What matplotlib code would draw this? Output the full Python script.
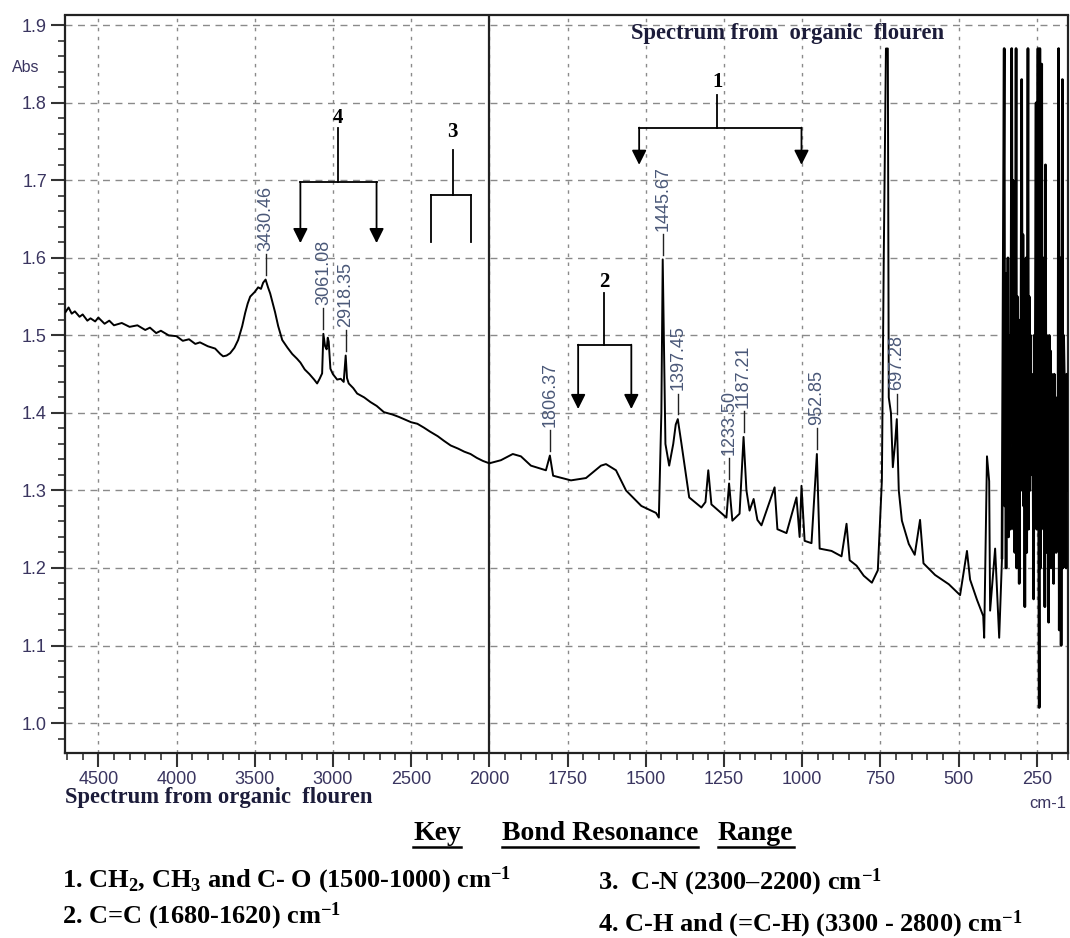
import numpy as np
import matplotlib.pyplot as plt
from matplotlib.lines import Line2D
from matplotlib.ticker import FixedLocator

plt.rcParams['mathtext.fontset'] = 'custom'
plt.rcParams['mathtext.rm'] = 'Liberation Serif:bold'
plt.rcParams['mathtext.it'] = 'Liberation Serif:bold'
plt.rcParams['mathtext.bf'] = 'Liberation Serif:bold'

# FTIR trace, wavenumber (cm-1) and absorbance
wavenumber = [
    4710, 4690, 4670, 4650, 4620, 4600, 4570, 4550, 4520, 4500,
    4460, 4430, 4400, 4350, 4300, 4250, 4200, 4170, 4130, 4100,
    4050, 4000, 3960, 3920, 3880, 3850, 3800, 3753, 3720, 3702,
    3680, 3657, 3630, 3606, 3580, 3561, 3545, 3529, 3500, 3478,
    3460, 3446, 3430.46, 3415, 3401, 3370, 3350, 3324, 3290, 3260,
    3230, 3208, 3180, 3150, 3120, 3101, 3085, 3069, 3061.08, 3050,
    3040, 3033, 3027, 3016, 3000, 2973, 2950, 2931, 2918.35, 2910,
    2899, 2870, 2845, 2800, 2760, 2720, 2674, 2620, 2580, 2546,
    2500, 2460, 2418, 2380, 2330, 2290, 2247, 2200, 2160, 2120,
    2080, 2040, 2000,
    1963, 1925, 1899, 1867, 1819, 1806.37, 1796, 1739, 1691, 1643, 1627, 1595,
    1563, 1514, 1467, 1458, 1450, 1445.67, 1437, 1425, 1412, 1404, 1397.45,
    1386, 1361, 1322, 1309, 1300, 1290, 1242, 1233.50, 1223, 1200, 1187.21,
    1178, 1168, 1155, 1143, 1130, 1088, 1079, 1050, 1018, 1008, 1002, 992, 970,
    952.85, 944, 906, 874, 858, 848, 826, 803, 777, 758, 745, 739, 732, 726,
    723, 716, 710, 703, 697.28, 691, 681, 659, 640, 623, 612, 575, 531, 495,
    473, 463, 441, 421, 418, 409, 402, 399, 383, 370, 361,
    354, 352, 350, 348, 346, 344, 342, 340, 338, 336,
    334, 332, 330, 328, 326, 324, 322, 320, 318, 316,
    314, 312, 310, 308, 306, 304, 302, 300, 298, 296,
    294, 292, 290, 288, 286, 284, 282, 280, 278, 276,
    274, 272, 270, 268, 266, 264, 262, 260, 258, 256,
    254, 252, 250, 248, 246, 244, 242, 240, 238, 236,
    234, 232, 230, 228, 226, 224, 222, 220, 218, 216,
    214, 212, 210, 208, 206, 204, 202, 200, 198, 196,
    194, 192, 190, 188, 186, 184, 182, 180, 178, 176,
    174, 172, 170, 168, 166, 164, 162, 160, 158, 156,
    154, 152, 150,
]
absorbance = [
    1.530, 1.536, 1.528, 1.531, 1.524, 1.527, 1.519, 1.522, 1.518, 1.523,
    1.515, 1.519, 1.513, 1.516, 1.511, 1.513, 1.507, 1.510, 1.503, 1.506,
    1.500, 1.499, 1.493, 1.495, 1.489, 1.491, 1.486, 1.483, 1.476, 1.473,
    1.474, 1.477, 1.484, 1.494, 1.512, 1.529, 1.541, 1.550, 1.556, 1.562,
    1.560, 1.568, 1.572, 1.562, 1.554, 1.530, 1.512, 1.494, 1.484, 1.476,
    1.470, 1.465, 1.456, 1.450, 1.443, 1.438, 1.444, 1.451, 1.502, 1.486,
    1.482, 1.497, 1.492, 1.457, 1.450, 1.443, 1.444, 1.440, 1.474, 1.445,
    1.438, 1.432, 1.425, 1.420, 1.414, 1.409, 1.401, 1.398, 1.395, 1.392,
    1.388, 1.386, 1.381, 1.376, 1.370, 1.364, 1.358, 1.354, 1.350, 1.347,
    1.342, 1.338, 1.335,
    1.339, 1.347, 1.344, 1.332, 1.326, 1.345, 1.319, 1.313, 1.316, 1.332, 1.334, 1.326,
    1.300, 1.280, 1.271, 1.265, 1.400, 1.598, 1.360, 1.332, 1.360, 1.385, 1.392,
    1.361, 1.291, 1.278, 1.285, 1.326, 1.282, 1.265, 1.309, 1.261, 1.270, 1.369,
    1.300, 1.274, 1.289, 1.262, 1.255, 1.304, 1.250, 1.245, 1.291, 1.240, 1.306, 1.235, 1.232,
    1.347, 1.225, 1.222, 1.215, 1.257, 1.210, 1.203, 1.190, 1.181, 1.197, 1.313, 1.600, 1.870, 1.870,
    1.420, 1.400, 1.330, 1.360, 1.392, 1.300, 1.261, 1.231, 1.217, 1.262, 1.206, 1.191, 1.179, 1.165,
    1.222, 1.185, 1.159, 1.138, 1.110, 1.344, 1.312, 1.145, 1.225, 1.110, 1.213,
    1.870, 1.280, 1.520, 1.200, 1.580, 1.300, 1.600, 1.240, 1.500, 1.320,
    1.250, 1.550, 1.870, 1.420, 1.700, 1.250, 1.550, 1.220, 1.450, 1.870,
    1.200, 1.550, 1.300, 1.520, 1.180, 1.400, 1.330, 1.550, 1.830, 1.300,
    1.630, 1.280, 1.500, 1.150, 1.450, 1.600, 1.220, 1.480, 1.870, 1.250,
    1.550, 1.300, 1.500, 1.340, 1.450, 1.320, 1.380, 1.160, 1.500, 1.280,
    1.550, 1.800, 1.250, 1.600, 1.870, 1.300, 1.020, 1.870, 1.200, 1.500,
    1.850, 1.280, 1.600, 1.250, 1.550, 1.150, 1.720, 1.220, 1.500, 1.280,
    1.450, 1.130, 1.500, 1.250, 1.480, 1.200, 1.450, 1.300, 1.420, 1.180,
    1.450, 1.270, 1.420, 1.220, 1.400, 1.270, 1.350, 1.870, 1.120, 1.400,
    1.600, 1.100, 1.450, 1.830, 1.200, 1.500, 1.450, 1.250, 1.380, 1.200,
    1.450, 1.300, 1.380,
]

peak_wn = [3430.46, 3061.08, 2918.35, 1806.37, 1445.67, 1397.45, 1233.50, 1187.21, 952.85, 697.28]
peak_labels = ["3430.46", "3061.08", "2918.35", "1806.37", "1445.67", "1397.45",
               "1233.50", "1187.21", "952.85", "697.28"]

key_items = [
    "1. CH$_2$, CH$_3$ and C- O (1500-1000) cm$^{-1}$",
    "2. C=C (1680-1620) cm$^{-1}$",
    "3.  C-N (2300\u20132200) cm$^{-1}$",
    "4. C-H and (=C-H) (3300 - 2800) cm$^{-1}$",
]

x_major = [4500, 4000, 3500, 3000, 2500, 2000, 1750, 1500, 1250, 1000, 750, 500, 250]
y_major = [1.0, 1.1, 1.2, 1.3, 1.4, 1.5, 1.6, 1.7, 1.8, 1.9]


# the region below 2000 cm-1 is drawn at twice the scale
def fwd(x):
    x = np.asarray(x, float)
    return np.where(x >= 2000, x, 2 * x - 2000)


def inv(u):
    u = np.asarray(u, float)
    return np.where(u >= 2000, u, (u + 2000) / 2)


W, H = 1070, 938
fig = plt.figure(figsize=(W / 100, H / 100), dpi=100)
ax = fig.add_axes([65 / W, 1 - 752.5 / H, 1003 / W, 737 / H])
ax.set_xscale('function', functions=(fwd, inv))
ax.set_xlim(4713, 150)
ax.set_ylim(0.962, 1.9126)

tick_col = '#3a3560'
narrow = ['Liberation Sans Narrow', 'Liberation Sans', 'DejaVu Sans']
serif = ['Liberation Serif', 'DejaVu Serif']

ax.xaxis.set_major_locator(FixedLocator(x_major))
minor_x = [v for v in range(4700, 2000, -100) if v not in x_major] + \
          [v for v in range(1950, 149, -50) if v not in x_major]
ax.xaxis.set_minor_locator(FixedLocator(minor_x))
ax.yaxis.set_major_locator(FixedLocator(y_major))
ax.yaxis.set_minor_locator(FixedLocator(np.arange(0.98, 1.91, 0.02)))
ax.set_xticklabels([str(v) for v in x_major])
ax.set_yticklabels([f"{v:.1f}" for v in y_major])
ax.tick_params(which='major', direction='out', length=10, width=1.5, color='#333',
               labelsize=13, labelcolor=tick_col, pad=3)
ax.tick_params(which='minor', direction='out', length=5, width=1.2, color='#333')
for lab in ax.get_xticklabels() + ax.get_yticklabels():
    lab.set_family(narrow)

ax.yaxis.grid(True, linestyle=(0, (5, 4)), color='#8a8a8a', lw=1.0)
ax.xaxis.grid(True, linestyle=(0, (2.5, 4)), color='#8a8a8a', lw=1.0)
for s in ax.spines.values():
    s.set_linewidth(1.6)
    s.set_color('#222')

ax.axvline(2000, color='#222', lw=1.6, zorder=3)

# main trace, with the noisy far-IR end drawn a little heavier
wn_arr = np.array(wavenumber)
ab_arr = np.array(absorbance)
main = wn_arr >= 361
tail = wn_arr <= 361
ax.plot(wn_arr[main], ab_arr[main], color='black', lw=1.4, zorder=4)
ax.plot(wn_arr[tail], ab_arr[tail], color='black', lw=1.9, zorder=4)

# peak markers with rotated wavenumber labels
wn_sorted = wn_arr[::-1]
ab_sorted = ab_arr[::-1]
for wn, lab in zip(peak_wn, peak_labels):
    yp = np.interp(wn, wn_sorted, ab_sorted)
    ax.plot([wn, wn], [yp + 0.006, yp + 0.033], color='#222', lw=1.0, zorder=5)
    ax.text(wn, yp + 0.037, lab, rotation=90, ha='center', va='bottom',
            fontsize=13, color='#4a5878', family=narrow, zorder=5)


# bracketed band markers
def bracket(x_left, x_right, x_mid, y_bar, y_tip, y_stem, y_num, num, arrows=True):
    ax.plot([x_mid, x_mid], [y_bar, y_stem], color='black', lw=1.3, zorder=6)
    ax.plot([x_left, x_right], [y_bar, y_bar], color='black', lw=1.3, zorder=6)
    for xx in (x_left, x_right):
        if arrows:
            ax.annotate('', xy=(xx, y_tip), xytext=(xx, y_bar),
                        arrowprops=dict(arrowstyle='-|>', color='black', lw=1.3,
                                        mutation_scale=22, shrinkA=0, shrinkB=0),
                        zorder=6)
        else:
            ax.plot([xx, xx], [y_bar, y_tip], color='black', lw=1.3, zorder=6)
    ax.text(x_mid, y_num, num, ha='center', va='center', fontsize=15,
            fontweight='bold', family=serif, zorder=6)


bracket(3208, 2721, 2965, 1.698, 1.619, 1.768, 1.781, '4')
bracket(2375, 2119, 2234, 1.681, 1.621, 1.739, 1.762, '3', arrows=False)
bracket(1716, 1546, 1633, 1.488, 1.405, 1.555, 1.569, '2')
bracket(1521, 1002, 1271, 1.768, 1.720, 1.810, 1.827, '1')

ax.text(1546, 1.889, "Spectrum from  organic  flouren", ha='left', va='center',
        fontsize=16.3, fontweight='bold', family=serif, color='#1c1c3a', zorder=7)

fig.text(12 / W, 1 - 67 / H, "Abs", fontsize=11.5, color=tick_col, family=narrow,
         va='center', ha='left')
fig.text(1066 / W, 1 - 803 / H, "cm-1", fontsize=12, color=tick_col, family=narrow,
         va='center', ha='right')
fig.text(65 / W, 1 - 797 / H, "Spectrum from organic  flouren", fontsize=16.3,
         fontweight='bold', family=serif, color='#1c1c3a', va='center', ha='left')

# key underneath the plot
heads = [
    fig.text(413 / W, 1 - 840 / H, "Key", fontsize=20, fontweight='bold', family=serif),
    fig.text(502 / W, 1 - 840 / H, "Bond Resonance", fontsize=20, fontweight='bold', family=serif),
    fig.text(718 / W, 1 - 840 / H, "Range", fontsize=20, fontweight='bold', family=serif),
]
item_pos = [(62, 887), (62, 923), (598, 889), (598, 931)]
for txt, (px, py) in zip(key_items, item_pos):
    fig.text(px / W, 1 - py / H, txt, fontsize=19, fontweight='bold', family=serif)

fig.canvas.draw()
renderer = fig.canvas.get_renderer()
for t in heads:
    bb = t.get_window_extent(renderer)
    yline = (bb.y0 - 1) / H
    fig.add_artist(Line2D([bb.x0 / W, bb.x1 / W], [yline, yline], color='black', lw=1.8))

fig.savefig('out.png', dpi=100)
